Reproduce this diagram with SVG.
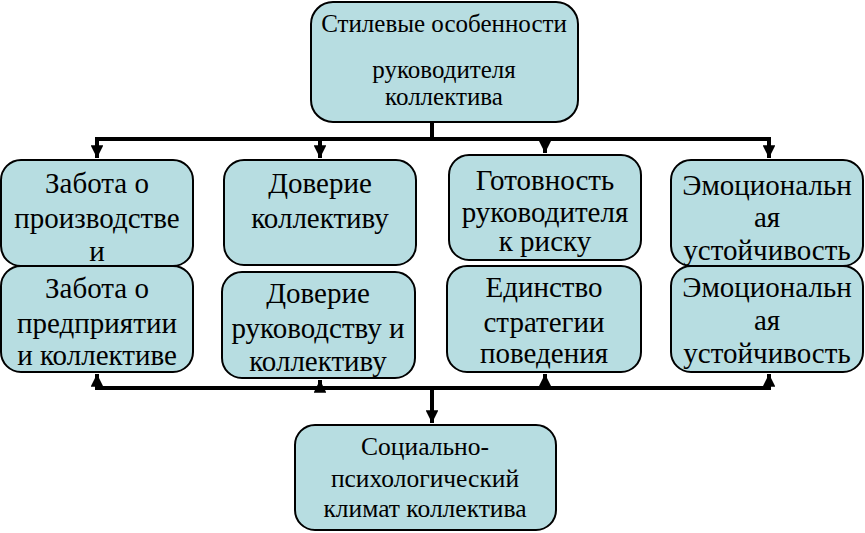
<svg xmlns="http://www.w3.org/2000/svg" width="865" height="533" viewBox="0 0 865 533" font-family="Liberation Serif, Times New Roman, serif">
<defs>
<style>
.box{fill:#b7dde1;stroke:#000;stroke-width:2}
.t{font-size:29px;fill:#000;text-anchor:middle}
.s{font-size:25px}
.b{font-size:25.5px}
.ln{stroke:#000;stroke-width:4;fill:none}
</style>
<marker id="ah" viewBox="0 0 10 10" refX="10" refY="5" markerWidth="3.5" markerHeight="3.2" orient="auto" markerUnits="strokeWidth">
<path d="M0,0 L10,5 L0,10 z" fill="#000"/>
</marker>
<clipPath id="c1"><rect x="1" y="160" width="192" height="106" rx="20"/></clipPath>
<clipPath id="c2"><rect x="224" y="160" width="192" height="105" rx="20"/></clipPath>
<clipPath id="c3"><rect x="449" y="155" width="192" height="105" rx="20"/></clipPath>
<clipPath id="c4"><rect x="671" y="160" width="192" height="106" rx="20"/></clipPath>
<clipPath id="c5"><rect x="1" y="266" width="192" height="106" rx="20"/></clipPath>
<clipPath id="c6"><rect x="222" y="272" width="193" height="106" rx="20"/></clipPath>
<clipPath id="c7"><rect x="447" y="266" width="194" height="106" rx="20"/></clipPath>
<clipPath id="c8"><rect x="671" y="266" width="192" height="106" rx="20"/></clipPath>
</defs>
<rect width="865" height="533" fill="#fff"/>
<g id="connectors">
<path class="ln" d="M432,122 V139 M95,139 H771"/>
<path class="ln" d="M97,139 V158" marker-end="url(#ah)"/>
<path class="ln" d="M320,139 V158" marker-end="url(#ah)"/>
<path class="ln" d="M545,139 V153" marker-end="url(#ah)"/>
<path class="ln" d="M769,139 V158" marker-end="url(#ah)"/>
<path class="ln" d="M95,388 H771"/>
<path class="ln" d="M97,388 V374" marker-end="url(#ah)"/>
<path class="ln" d="M320,388 V380" marker-end="url(#ah)"/>
<path class="ln" d="M545,388 V374" marker-end="url(#ah)"/>
<path class="ln" d="M769,388 V374" marker-end="url(#ah)"/>
<path class="ln" d="M432,388 V423" marker-end="url(#ah)"/>
</g>
<g id="top">
<rect class="box" x="311" y="2" width="267" height="120" rx="22"/>
<text class="t s" x="444" y="32">Стилевые особенности</text>
<text class="t s" x="444" y="78">руководителя</text>
<text class="t s" x="444" y="105">коллектива</text>
</g>
<g id="n1">
<rect class="box" x="1" y="160" width="192" height="106" rx="20"/>
<g clip-path="url(#c1)"><text class="t" x="97" y="193">Забота о</text><text class="t" x="97" y="228">производстве</text><text class="t" x="97" y="261">и</text></g>
</g>
<g id="n2">
<rect class="box" x="224" y="160" width="192" height="105" rx="20"/>
<g clip-path="url(#c2)"><text class="t" x="320" y="193">Доверие</text><text class="t" x="320" y="228">коллективу</text></g>
</g>
<g id="n3">
<rect class="box" x="449" y="155" width="192" height="105" rx="20"/>
<g clip-path="url(#c3)"><text class="t" x="545" y="190">Готовность</text><text class="t" x="545" y="222">руководителя</text><text class="t" x="545" y="251">к риску</text></g>
</g>
<g id="n4">
<rect class="box" x="671" y="160" width="192" height="106" rx="20"/>
<g clip-path="url(#c4)"><text class="t" x="767" y="195">Эмоциональн</text><text class="t" x="767" y="227">ая</text><text class="t" x="767" y="260">устойчивость</text></g>
</g>
<g id="n5">
<rect class="box" x="1" y="266" width="192" height="106" rx="20"/>
<g clip-path="url(#c5)"><text class="t" x="97" y="298">Забота о</text><text class="t" x="97" y="333">предприятии</text><text class="t" x="97" y="365">и коллективе</text></g>
</g>
<g id="n6">
<rect class="box" x="222" y="272" width="193" height="106" rx="20"/>
<g clip-path="url(#c6)"><text class="t" x="318" y="303">Доверие</text><text class="t" x="318" y="338">руководству и</text><text class="t" x="318" y="371">коллективу</text></g>
</g>
<g id="n7">
<rect class="box" x="447" y="266" width="194" height="106" rx="20"/>
<g clip-path="url(#c7)"><text class="t" x="544" y="297">Единство</text><text class="t" x="544" y="332">стратегии</text><text class="t" x="544" y="363">поведения</text></g>
</g>
<g id="n8">
<rect class="box" x="671" y="266" width="192" height="106" rx="20"/>
<g clip-path="url(#c8)"><text class="t" x="767" y="297">Эмоциональн</text><text class="t" x="767" y="330">ая</text><text class="t" x="767" y="363">устойчивость</text></g>
</g>
<g id="bottom">
<rect class="box" x="295" y="425" width="261" height="105" rx="20"/>
<text class="t b" x="425" y="455">Социально-</text>
<text class="t b" x="425" y="487">психологический</text>
<text class="t b" x="425" y="517">климат коллектива</text>
</g>
</svg>
